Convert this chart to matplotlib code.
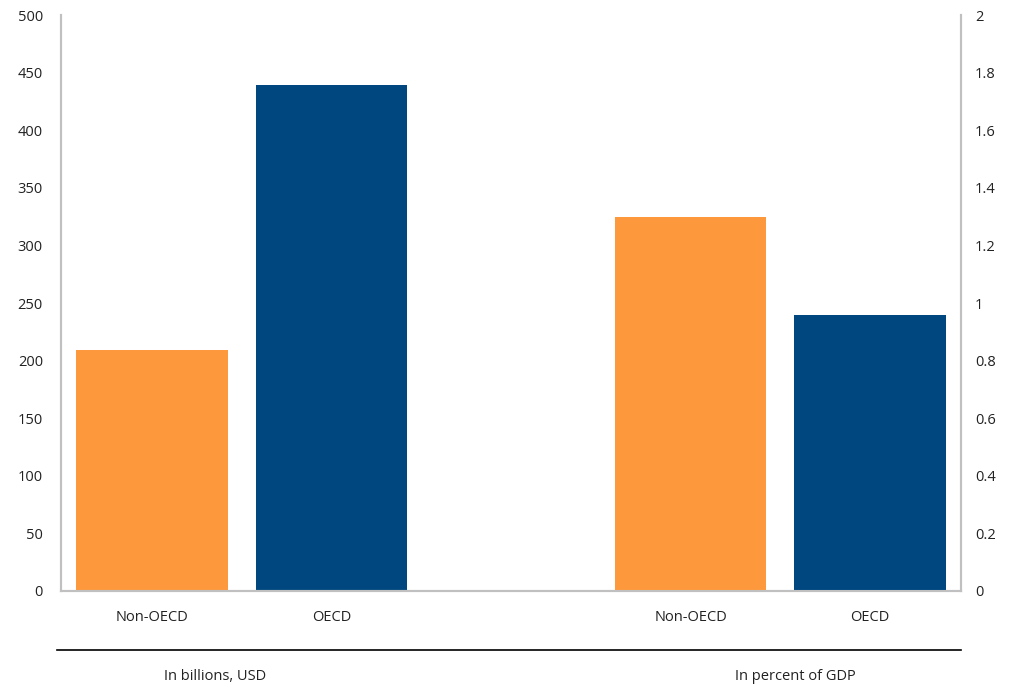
import matplotlib.pyplot as plt

categories = ['Non-OECD', 'OECD']
usd_billions = [209, 439]
pct_gdp = [1.30, 0.96]
group_labels = ['In billions, USD', 'In percent of GDP']
colors = ['#FD993C', '#00477F']

plt.rcParams['font.family'] = ['Open Sans', 'DejaVu Sans']

fig = plt.figure(figsize=(10.25, 6.86), dpi=100)
ax = fig.add_axes([0.0595, 0.1385, 0.8781, 0.8396])
ax2 = ax.twinx()

w = 0.845
ax.bar([0, 1], usd_billions, width=w, color=colors)
ax2.bar([3, 4], pct_gdp, width=w, color=colors)

ax.set_xlim(-0.506, 4.506)
ax.set_ylim(0, 500)
ax2.set_ylim(0, 2)
ax.set_yticks(range(0, 501, 50))
ax2.set_yticks([0, 0.2, 0.4, 0.6, 0.8, 1, 1.2, 1.4, 1.6, 1.8, 2])
ax2.set_yticklabels(['0', '0.2', '0.4', '0.6', '0.8', '1', '1.2', '1.4', '1.6', '1.8', '2'])
ax.set_xticks([0, 1, 3, 4])
ax.set_xticklabels(categories + categories)

for a in (ax, ax2):
    a.tick_params(length=0, labelsize=10.5, colors='#222222')
    a.tick_params(axis='x', pad=14)
    a.spines['top'].set_visible(False)
    for s in ('left', 'right', 'bottom'):
        a.spines[s].set_color('#c0c0c0')
        a.spines[s].set_linewidth(1.5)
ax.tick_params(axis='y', pad=13)
ax2.tick_params(axis='y', pad=10)

# separator line and group labels
fig.add_artist(plt.Line2D([57 / 1025, 961 / 1025], [1 - 650 / 686, 1 - 650 / 686],
                          color='black', lw=1.2))
fig.text(215 / 1025, 1 - 677 / 686, group_labels[0], ha='center', va='center',
         fontsize=10.5, color='#222222')
fig.text(795 / 1025, 1 - 677 / 686, group_labels[1], ha='center', va='center',
         fontsize=10.5, color='#222222')

fig.savefig('out.png', dpi=100)
plt.close(fig)
